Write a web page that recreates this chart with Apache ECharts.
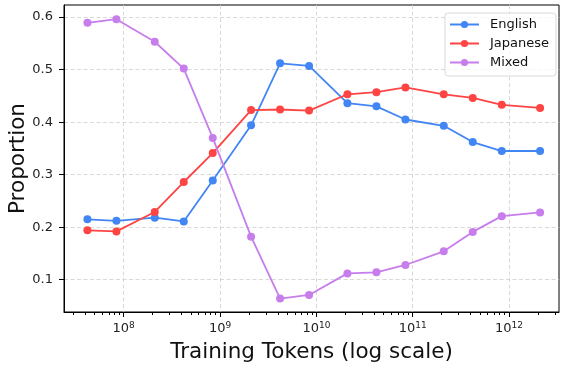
<!DOCTYPE html>
<html>
<head>
<meta charset="utf-8">
<script src="https://cdn.jsdelivr.net/npm/echarts@6/dist/echarts.min.js"></script>
<style>
  html, body { margin: 0; padding: 0; background: #fff; }
  #chart { width: 561px; height: 368px; }
</style>
</head>
<body>
<div id="chart"></div>
<script>
// Training tokens at each checkpoint
const tokens = [4.2e7, 8.4e7, 2.1e8, 4.2e8, 8.4e8, 2.1e9, 4.2e9, 8.4e9,
                2.1e10, 4.2e10, 8.4e10, 2.1e11, 4.2e11, 8.4e11, 2.1e12];

// Proportion of outputs per language
const english  = [0.215, 0.212, 0.218, 0.211, 0.289, 0.394, 0.512, 0.507,
                  0.436, 0.430, 0.405, 0.393, 0.362, 0.345, 0.345];
const japanese = [0.194, 0.192, 0.229, 0.286, 0.341, 0.423, 0.424, 0.422,
                  0.453, 0.457, 0.466, 0.453, 0.446, 0.433, 0.427];
const mixed    = [0.589, 0.596, 0.553, 0.502, 0.370, 0.182, 0.064, 0.071,
                  0.112, 0.114, 0.128, 0.154, 0.191, 0.221, 0.228];

const seriesNames = ['English', 'Japanese', 'Mixed'];

// Axis ticks
const xMajorTicks = [1e8, 1e9, 1e10, 1e11, 1e12];
const xMinorTicks = [];
for (let e = 7; e <= 12; e++) {
  for (let m = 2; m <= 9; m++) xMinorTicks.push(m * Math.pow(10, e));
}
const yTicks = [0.1, 0.2, 0.3, 0.4, 0.5, 0.6];

const xRange = [2.4e7, 3.3e12];
const yRange = [0.0385, 0.623];

const FONT = 'DejaVu Sans';
const colors = ['#4285F4', '#FF4444', '#C77DEB'];

const chart = echarts.init(document.getElementById('chart'), null, { renderer: 'canvas' });

const gridLine = { show: true, lineStyle: { color: '#cfcfcf', type: [4, 2.5], width: 0.8 } };

function makeSeries(name, values, color) {
  return {
    name: name,
    type: 'line',
    xAxisIndex: 0,
    yAxisIndex: 0,
    data: tokens.map((t, i) => [t, values[i]]),
    symbol: 'circle',
    symbolSize: 8,
    itemStyle: { color: color },
    lineStyle: { color: color, width: 1.8 },
    emphasis: { disabled: true },
    animation: false
  };
}

chart.setOption({
  animation: false,
  textStyle: { fontFamily: FONT },
  grid: {
    left: 64, right: 2, top: 5, bottom: 56,
    containLabel: false,
    outerBoundsMode: 'none',
    show: true, borderColor: '#000', borderWidth: 1, backgroundColor: 'transparent'
  },
  legend: {
    data: seriesNames,
    orient: 'vertical',
    right: 5, top: 13,
    itemWidth: 29, itemHeight: 9, itemGap: 6,
    padding: [5, 7, 7, 4],
    borderColor: '#d9d9d9', borderWidth: 1, borderRadius: 3,
    backgroundColor: 'rgba(255,255,255,0.8)',
    textStyle: { fontFamily: FONT, fontSize: 13, color: '#111', padding: [0, 0, 0, 6] }
  },
  xAxis: [
    {
      type: 'log', logBase: 10,
      min: xRange[0], max: xRange[1],
      name: 'Training Tokens (log scale)',
      nameLocation: 'middle', nameGap: 29,
      nameTextStyle: { fontFamily: FONT, fontSize: 21.5, color: '#111', verticalAlign: 'top' },
      axisLine: { show: true, lineStyle: { color: '#000', width: 1 } },
      axisTick: { show: true, length: 5, customValues: xMajorTicks, lineStyle: { color: '#000' } },
      splitLine: gridLine,
      axisLabel: {
        customValues: xMajorTicks,
        margin: 9,
        color: '#222',
        fontFamily: FONT, fontSize: 13,
        formatter: v => '10{sup|' + Math.round(Math.log10(v)) + '}',
        rich: { sup: { fontSize: 9, fontFamily: FONT, color: '#222', padding: [0, 0, 7, 0] } }
      }
    },
    {
      type: 'log', logBase: 10,
      min: xRange[0], max: xRange[1],
      position: 'bottom',
      axisLine: { show: false },
      axisTick: { show: true, length: 3, customValues: xMinorTicks, lineStyle: { color: '#000' } },
      axisLabel: { show: false },
      splitLine: { show: false }
    }
  ],
  yAxis: {
    type: 'value',
    min: yRange[0], max: yRange[1],
    name: 'Proportion',
    nameLocation: 'middle', nameGap: 35,
    nameMoveOverlap: false,
    nameTextStyle: { fontFamily: FONT, fontSize: 21.5, color: '#111', verticalAlign: 'bottom' },
    axisLine: { show: true, lineStyle: { color: '#000', width: 1 } },
    axisTick: { show: true, length: 5, customValues: yTicks, lineStyle: { color: '#000' } },
    splitLine: gridLine,
    axisLabel: {
      customValues: yTicks,
      margin: 11,
      color: '#222', fontFamily: FONT, fontSize: 13,
      formatter: v => v.toFixed(1)
    }
  },
  series: [
    makeSeries(seriesNames[0], english, colors[0]),
    makeSeries(seriesNames[1], japanese, colors[1]),
    makeSeries(seriesNames[2], mixed, colors[2])
  ]
});
</script>
</body>
</html>
